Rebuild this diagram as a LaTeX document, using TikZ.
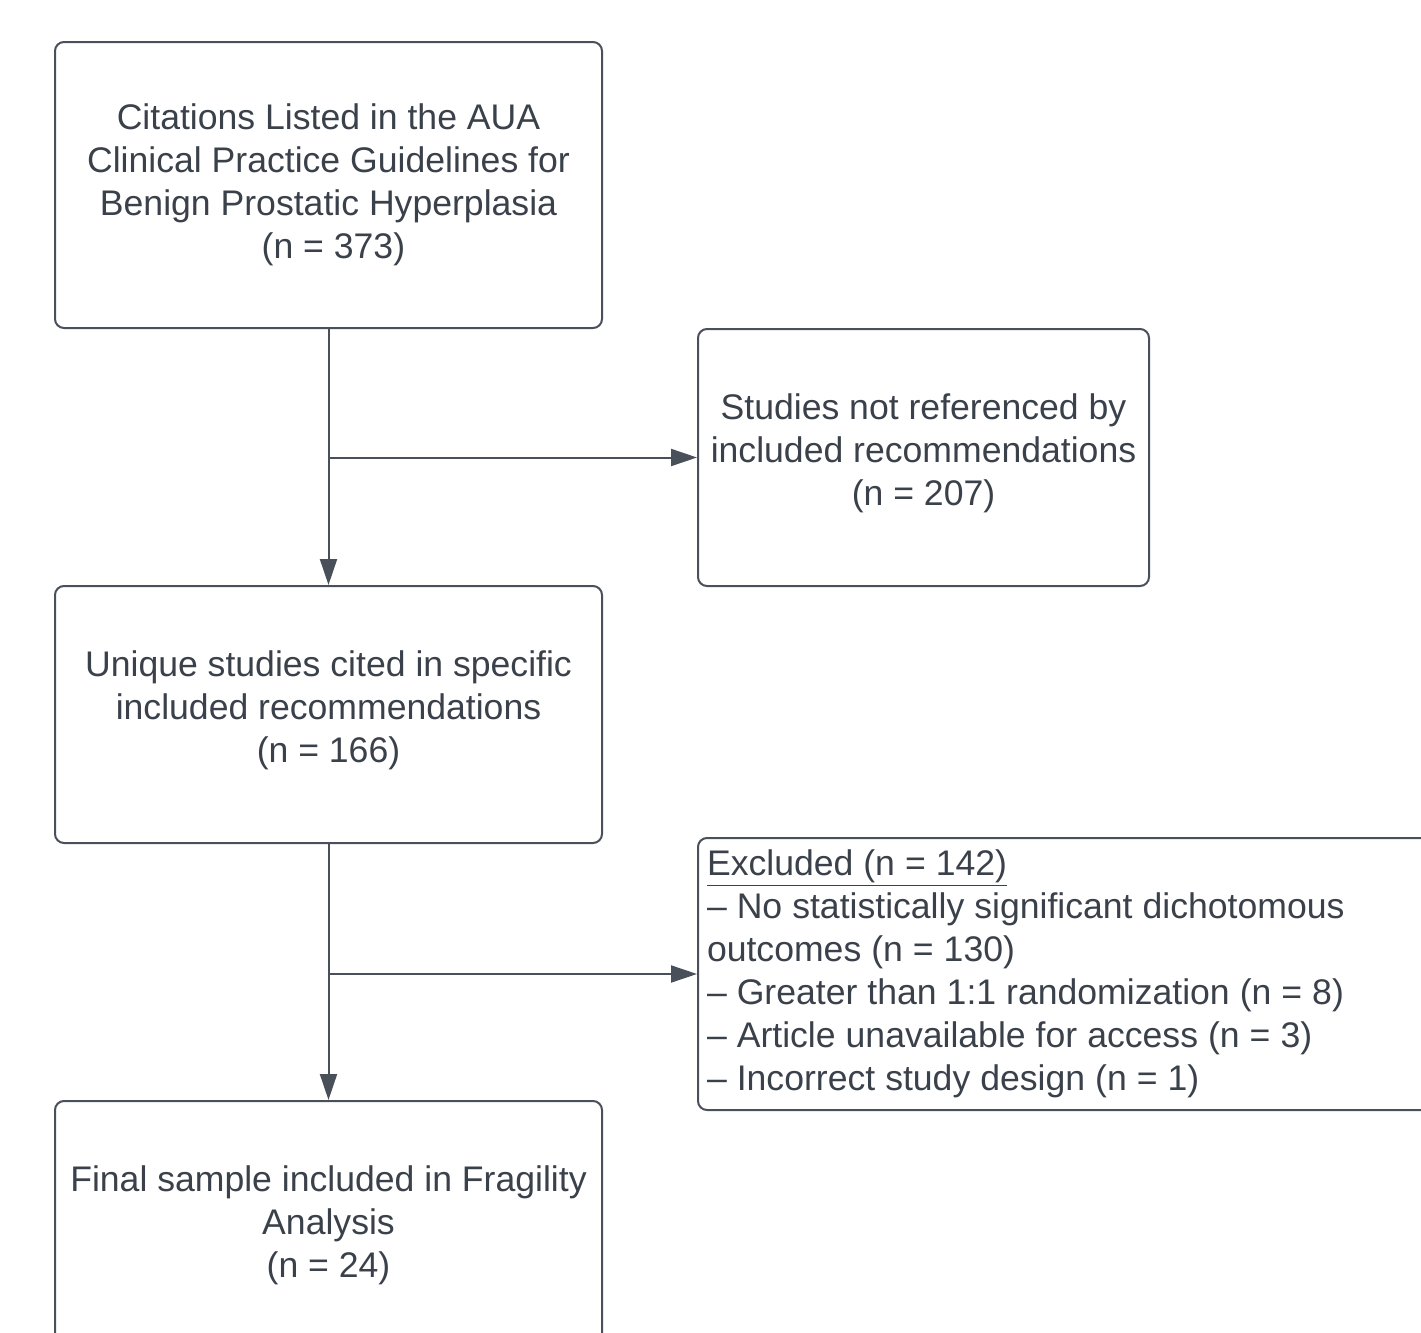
\documentclass[tikz,border=0pt]{standalone}
\usepackage{fontspec}
\setmainfont{Liberation Sans}
\usetikzlibrary{arrows.meta,positioning}
\definecolor{ink}{HTML}{3A414A}
\definecolor{edge}{HTML}{4A505A}
\newcommand\fixedspaces{\spaceskip 5pt\relax}

\begin{document}
\begin{tikzpicture}[x=0.5pt, y=-0.5pt,
    box/.style={draw=edge, line width=1pt, rounded corners=4.5pt, inner sep=0pt,
      align=center, text=ink, font=\fontsize{17.8pt}{21.5pt}\selectfont},
    arr/.style={draw=edge, line width=1pt, -{Triangle[length=13pt, width=8.5pt]}}]
  \useasboundingbox (0,0) rectangle (1421,1333);
  \def \wide {273.5pt}
  \def \tall {128.5pt}
  \def \pad {\rule[-8.3pt]{0pt}{0pt}} % lifts the text a little
  % main column
  \node[box, minimum width=\wide, minimum height=143pt] (cite) at (328.5,185)
    {Citations Listed in the AUA\\Clinical Practice Guidelines for\\Benign Prostatic Hyperplasia\\\ (n = 373)};
  \node[box, minimum width=\wide, minimum height=\tall] (unique) at (328.5,714.5)
    {Unique studies cited in specific\\included recommendations\\(n = 166)\pad};
  \node[box, minimum width=\wide, minimum height=\tall] (final) at (328.5,1229.5)
    {Final sample included in Fragility\\Analysis\\(n = 24)\pad};
  % side boxes
  \node[box, minimum width=225.5pt, minimum height=\tall] (notref) at (923.5,457.5)
    {Studies not referenced by\\included recommendations\\(n = 207)\pad};
  \node[box, align=left, inner xsep=4.5pt, text width=362pt, minimum height=136pt] (excl) at (1069,974)
    {\fixedspaces\underline{Excluded (n = 142)}\\
     – No statistically significant dichotomous\\
     outcomes (n = 130)\\
     – Greater than 1:1 randomization (n = 8)\\
     – Article unavailable for access (n = 3)\\
     – Incorrect study design (n = 1)};
  % connectors
  \draw[arr] (cite) -- (unique);
  \draw[arr] (cite.south |- notref.west) -- (notref.west);
  \draw[arr] (unique) -- (final);
  \draw[arr] (unique.south |- excl.west) -- (excl.west);
\end{tikzpicture}
\end{document}
